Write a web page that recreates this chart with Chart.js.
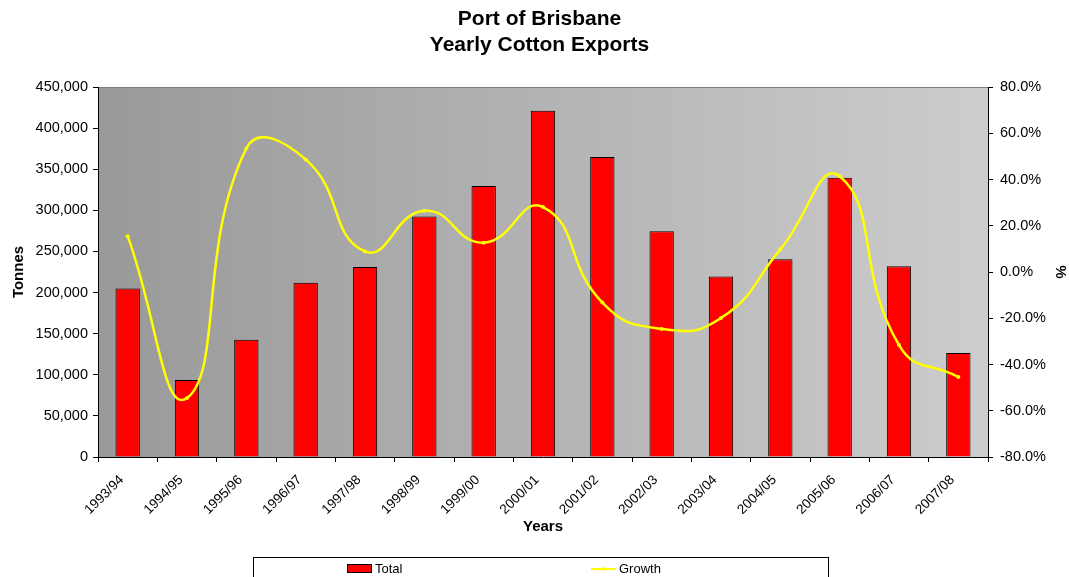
<!DOCTYPE html>
<html>
<head>
<meta charset="utf-8">
<script src="https://cdn.jsdelivr.net/npm/chart.js@4"></script>
<style>
  body { margin: 0; background: #fff; font-family: "Liberation Sans", Arial, sans-serif; }
  #wrap { position: relative; width: 1069px; height: 577px; }
  #legend { position: absolute; left: 253px; top: 557px; width: 574px; height: 30px; border: 1px solid #000; font-size: 13px; }
  .item { position: absolute; top: 3px; display: flex; align-items: center; }
  .sw { display: inline-block; width: 23px; height: 7px; background: #f00; border: 1px solid #000; margin-right: 3px; }
  .ln { display: inline-block; width: 25px; height: 2px; background: #ff0; margin-right: 3px; position: relative; }
  .ln:after { content: ""; position: absolute; left: 10px; top: -1px; width: 4px; height: 4px; border-radius: 2px; background: #ff0; }
</style>
</head>
<body>
<div id="wrap">
  <canvas id="chart_cottonExports" width="1069" height="577"></canvas>
  <div id="legend">
    <div class="item" style="left:93px"><span class="sw"></span>Total</div>
    <div class="item" style="left:337px"><span class="ln"></span>Growth</div>
  </div>
</div>
<script>
const years = ["1993/94", "1994/95", "1995/96", "1996/97", "1997/98", "1998/99", "1999/00", "2000/01",
    "2001/02", "2002/03", "2003/04", "2004/05", "2005/06", "2006/07", "2007/08"];
const total = [205000, 93500, 142500, 212000, 231000, 292500, 329500, 421000,
    365000, 274500, 219500, 240500, 339500, 232000, 126500];
const growth = [15.5, -54.5, 53.4, 48.7, 8.9, 26.5, 12.7, 28.1,
    -13.2, -24.6, -19.9, 9.8, 41.4, -31.6, -45.4];

// gradient plot background, dark on the left, light on the right
const plotBackground = {
    id: 'plotBackground',
    beforeDraw(chart) {
        const a = chart.chartArea;
        const ctx = chart.ctx;
        const g = ctx.createLinearGradient(a.left, 0, a.right, 0);
        g.addColorStop(0, '#999999');
        g.addColorStop(1, '#cdcdcd');
        ctx.save();
        ctx.fillStyle = g;
        ctx.fillRect(a.left, a.top, a.right - a.left, a.bottom - a.top);
        ctx.strokeStyle = '#808080';
        ctx.lineWidth = 1;
        ctx.beginPath();
        ctx.moveTo(a.left, a.top + 0.5);
        ctx.lineTo(a.right, a.top + 0.5);
        ctx.stroke();
        ctx.restore();
    }
};

const fam = "'Liberation Sans', Arial, sans-serif";
const tickFont = { family: fam, size: 14.5 };
const titleFont = { family: fam, size: 15, weight: 'bold' };

const config = {
    data: {
        labels: years,
        datasets: [{
            type: 'line',
            label: 'Growth',
            data: growth,
            yAxisID: 'y1',
            borderColor: '#ffff00',
            backgroundColor: '#ffff00',
            borderWidth: 2.5,
            pointRadius: 2,
            pointBorderWidth: 0,
            tension: 0.5,
            order: 0
        }, {
            type: 'bar',
            label: 'Total',
            data: total,
            yAxisID: 'y',
            backgroundColor: '#ff0000',
            borderColor: '#000000',
            borderWidth: 1,
            categoryPercentage: 1,
            barPercentage: 0.41,
            order: 1
        }]
    },
    options: {
        responsive: false,
        animation: false,
        layout: { padding: { left: 10, right: 0, top: 7, bottom: 37 } },
        plugins: {
            legend: { display: false },
            tooltip: { enabled: false },
            title: {
                display: true,
                text: ["Port of Brisbane", "Yearly Cotton Exports"],
                color: '#000',
                font: { family: fam, size: 21, weight: 'bold', lineHeight: 1.2 },
                padding: { top: 0, bottom: 29.6 }
            }
        },
        scales: {
            x: {
                offset: true,
                grid: { display: true, drawOnChartArea: false, offset: true, color: '#000', tickLength: 5 },
                border: { color: '#000' },
                ticks: { color: '#000', font: { family: fam, size: 13.5 }, minRotation: 45, maxRotation: 45, padding: 10, labelOffset: -6 },
                title: { display: true, text: 'Years', color: '#000', font: titleFont, padding: { top: 4 } },
                afterFit(axis) { axis.height = 83; }
            },
            y: {
                position: 'left',
                min: 0,
                max: 450000,
                ticks: {
                    stepSize: 50000,
                    color: '#000',
                    font: tickFont,
                    padding: 5,
                    callback: v => v.toLocaleString('en-US')
                },
                grid: { drawOnChartArea: false, color: '#000', tickLength: 5 },
                border: { color: '#000' },
                title: { display: true, text: 'Tonnes', color: '#000', font: titleFont, padding: 0 },
                afterFit(axis) { axis.width = 88; }
            },
            y1: {
                position: 'right',
                min: -80,
                max: 80,
                ticks: {
                    stepSize: 20,
                    color: '#000',
                    font: tickFont,
                    padding: 7,
                    callback: v => v.toFixed(1) + '%'
                },
                grid: { drawOnChartArea: false, color: '#000', tickLength: 5 },
                border: { color: '#000' },
                title: { display: true, text: '%', color: '#000', font: titleFont, padding: 0 },
                afterFit(axis) { axis.width = 81; }
            }
        }
    },
    plugins: [plotBackground]
};

const myChart = new Chart(document.getElementById('chart_cottonExports'), config);
</script>
</body>
</html>
